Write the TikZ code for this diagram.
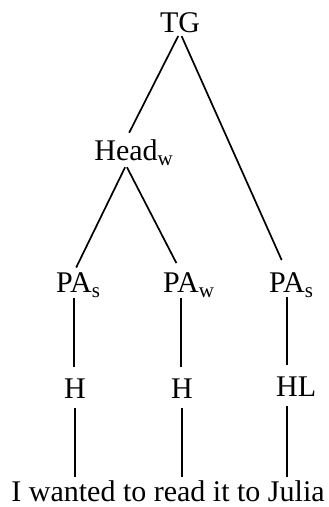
\documentclass[tikz,border=0pt]{standalone}
\usepackage{fontspec}
\setmainfont{Liberation Serif}
\newcommand{\mysub}[1]{\rlap{\raisebox{-5pt}{\fontsize{21}{24}\selectfont #1}}}
\begin{document}
\begin{tikzpicture}[x=1pt,y=-1pt,
  lab/.style={font=\fontsize{30}{34}\selectfont, inner sep=0pt, anchor=base},
  edge/.style={line width=1.7pt}]
\useasboundingbox (0,0) rectangle (329,507);
\node[lab] (tg)   at (180,32)  {TG};
\node[lab] (head) at (126,160) {Head\mysub{w}};
\node[lab] (pa1)  at (74,292)  {PA\mysub{s}};
\node[lab] (pa2)  at (181,292) {PA\mysub{w}};
\node[lab] (pa3)  at (287,292) {PA\mysub{s}};
\node[lab] (h1)   at (75,398)  {H};
\node[lab] (h2)   at (182,398) {H};
\node[lab] (h3)   at (287,396) {H\rlap{L}};
\node[lab] (sent) at (168,501) {I wanted to read it to Julia};
% tree edges
\draw[edge, shorten <=4pt, shorten >=7pt] (tg.south) -- (head.north);
\draw[edge, shorten <=4pt, shorten >=13pt] (tg.south) -- (pa3.north);
\draw[edge, shorten <=2pt, shorten >=5pt] (head.south) -- (pa1.north);
\draw[edge, shorten <=2pt, shorten >=10pt] (head.south) -- (pa2.north);
% verticals
\draw[edge, shorten <=1pt, shorten >=11pt] (pa1.south) -- (pa1.south |- h1.north);
\draw[edge, shorten <=1pt, shorten >=11pt] (pa2.south) -- (pa2.south |- h2.north);
\draw[edge, shorten <=0pt, shorten >=11pt] (pa3.south) -- (pa3.south |- h3.north);
\draw[edge, shorten <=10pt, shorten >=3pt] (h1.south) -- (h1.south |- sent.north);
\draw[edge, shorten <=10pt, shorten >=3pt] (h2.south) -- (h2.south |- sent.north);
\draw[edge, shorten <=10pt, shorten >=3pt] (h3.south) -- (h3.south |- sent.north);
\end{tikzpicture}
\end{document}
